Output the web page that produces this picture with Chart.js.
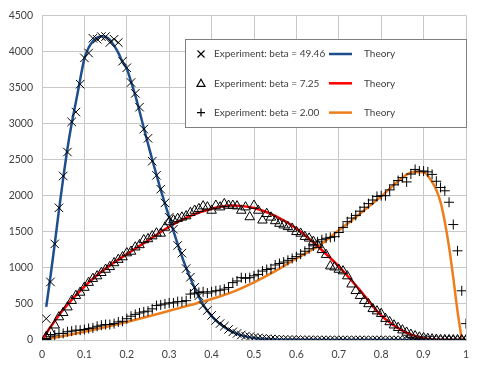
<!DOCTYPE html>
<html>
<head>
<meta charset="utf-8">
<script src="https://cdn.jsdelivr.net/npm/chart.js@4/dist/chart.umd.min.js"></script>
<style>
  html, body { margin: 0; padding: 0; background: #fff; }
  #wrap { width: 479px; height: 374px; position: relative; }
</style>
</head>
<body>
<div id="wrap"><canvas id="c" width="479" height="374"></canvas></div>
<script>
'use strict';

/* ---------- data ---------- */
// x positions of the measured points (shared by all three experiments)
const expX = [
  0.01,0.02,0.03,0.04,0.05,0.06,0.07,0.08,0.09,0.10,
  0.11,0.12,0.13,0.14,0.15,0.16,0.17,0.18,0.19,0.20,
  0.21,0.22,0.23,0.24,0.25,0.26,0.27,0.28,0.29,0.30,
  0.31,0.32,0.33,0.34,0.35,0.36,0.37,0.38,0.39,0.40,
  0.41,0.42,0.43,0.44,0.45,0.46,0.47,0.48,0.49,0.50,
  0.51,0.52,0.53,0.54,0.55,0.56,0.57,0.58,0.59,0.60,
  0.61,0.62,0.63,0.64,0.65,0.66,0.67,0.68,0.69,0.70,
  0.71,0.72,0.73,0.74,0.75,0.76,0.77,0.78,0.79,0.80,
  0.81,0.82,0.83,0.84,0.85,0.86,0.87,0.88,0.89,0.90,
  0.91,0.92,0.93,0.94,0.95,0.96,0.97,0.98,0.99,1.00
];

// Experiment: beta = 49.46
const exp4946 = [
  296,805,1332,1832,2273,2605,3023,3159,3545,3910,
  3977,4182,4168,4205,4205,4123,4168,4123,3864,3773,
  3568,3418,3227,2923,2795,2478,2282,2090,1900,1700,
  1535,1310,1204,990,870,730,614,477,409,341,
  273,228,191,146,113,91,70,55,45,35,
  28,22,17,13,10,8,6,5,4,3,
  2,2,1,1,1,0,0,0,0,0,
  0,0,0,0,0,0,0,0,0,0,
  0,0,0,0,0,0,0,0,0,0,
  0,0,0,0,0,0,0,0,0,0
];

// Experiment: beta = 7.25
const exp725 = [
  45,114,205,318,377,455,545,614,659,727,
  795,850,886,932,977,1014,1068,1114,1150,1205,
  1227,1286,1318,1386,1400,1440,1480,1477,1560,1636,
  1660,1682,1700,1718,1764,1795,1818,1855,1841,1795,
  1864,1841,1886,1864,1864,1855,1795,1841,1705,1864,
  1795,1659,1750,1700,1650,1614,1591,1568,1545,1500,
  1477,1432,1409,1364,1318,1250,1182,1023,1009,977,
  955,886,773,682,614,545,500,432,400,364,
  296,250,205,170,136,105,75,55,38,28,
  18,12,7,4,2,1,0,0,0,0
];

// Experiment: beta = 2.00
const exp200 = [
  20,45,68,91,91,114,123,136,136,145,
  160,168,190,205,214,214,227,250,260,295,
  330,355,375,390,400,432,477,486,500,514,
  514,532,532,545,636,650,659,668,650,668,
  682,690,705,727,795,818,864,855,864,890,
  909,955,977,988,1040,1060,1080,1105,1130,1155,
  1190,1230,1265,1305,1360,1390,1410,1422,1432,1490,
  1560,1640,1690,1727,1785,1840,1890,1940,1990,2000,
  2000,2080,2150,2210,2250,2191,2300,2364,2341,2341,
  2330,2295,2200,2114,2068,1909,1600,1236,682,227
];

// Theory curves
const theoryBlueX = [0.01,0.02,0.03,0.04,0.05,0.06,0.07,0.08,0.09,0.10,0.11,0.12,0.13,0.14,0.15,0.16,0.17,0.18,0.19,0.20,
  0.21,0.22,0.23,0.24,0.25,0.26,0.27,0.28,0.29,0.30,0.32,0.34,0.36,0.38,0.40,0.42,0.44,0.46,0.48,0.50,0.55,0.60,0.70,0.80,0.90,1.00];
const theoryBlueY = [460,880,1330,1800,2240,2650,3000,3300,3610,3900,4050,4140,4190,4210,4200,4160,4080,3980,3850,3760,
  3580,3390,3170,2940,2720,2500,2290,2080,1890,1700,1330,1000,720,490,330,220,140,85,50,28,8,2,0,0,0,0];

const theoryRedX = [0,0.02,0.05,0.10,0.15,0.20,0.25,0.30,0.35,0.40,0.45,0.50,0.55,0.60,0.65,0.70,0.75,0.80,0.85,0.90,0.95,1.00];
const theoryRedY = [0,180,420,740,990,1190,1380,1570,1720,1820,1865,1830,1720,1545,1300,1020,690,340,130,25,2,0];

const theoryOrangeX = [0,0.05,0.10,0.15,0.20,0.25,0.30,0.35,0.40,0.45,0.50,0.55,0.60,0.65,0.70,0.75,0.80,0.85,0.875,0.90,0.92,0.93,0.94,0.95,0.96,0.97,0.98,0.99];
const theoryOrangeY = [0,55,115,180,250,325,405,485,568,668,800,955,1130,1295,1520,1750,1990,2250,2330,2325,2190,2080,1910,1640,1290,860,400,10];

const legendRows = [
  { label: 'Experiment: beta = 49.46', marker: 'crossRot', color: '#1f4e8c' },
  { label: 'Experiment: beta = 7.25',  marker: 'triangle', color: '#ff0000' },
  { label: 'Experiment: beta = 2.00',  marker: 'cross',    color: '#ee7d1b' },
];

/* ---------- helpers ---------- */
function pts(xs, ys) {
  return xs.map((x, i) => ({ x, y: ys[i] }));
}

const FONT = 'Lato, "Open Sans", sans-serif';
const TEXT = '#404040';
const GRID = '#c8c8c8';

function expSet(label, ys, style, r) {
  return {
    label,
    data: pts(expX, ys),
    showLine: false,
    pointStyle: style,
    pointRadius: r,
    pointBorderWidth: 1,
    pointBorderColor: '#000',
    pointBackgroundColor: 'rgba(0,0,0,0)',
    order: 1,
  };
}

function theorySet(xs, ys, color) {
  return {
    label: 'Theory',
    data: pts(xs, ys),
    showLine: true,
    borderColor: color,
    borderWidth: 2.5,
    pointRadius: 0,
    cubicInterpolationMode: 'monotone',
    fill: false,
    order: 2,
  };
}

/* ---------- legend box plugin ---------- */
const legendBox = {
  id: 'legendBox',
  afterDraw(chart) {
    const ctx = chart.ctx;
    const bx = 185, by = 39, bw = 281, bh = 88;
    ctx.save();
    ctx.fillStyle = '#fff';
    ctx.fillRect(bx, by, bw, bh);
    ctx.strokeStyle = '#7f7f7f';
    ctx.lineWidth = 1;
    ctx.strokeRect(bx + 0.5, by + 0.5, bw, bh);

    ctx.font = '10px ' + FONT;
    ctx.fillStyle = TEXT;
    ctx.textBaseline = 'middle';
    legendRows.forEach((row, i) => {
      const y = 54 + i * 29.3;
      // marker
      ctx.strokeStyle = '#000';
      ctx.lineWidth = 1.2;
      ctx.beginPath();
      const mx = 201;
      if (row.marker === 'crossRot') {
        ctx.moveTo(mx - 3.5, y - 3.5); ctx.lineTo(mx + 3.5, y + 3.5);
        ctx.moveTo(mx + 3.5, y - 3.5); ctx.lineTo(mx - 3.5, y + 3.5);
      } else if (row.marker === 'triangle') {
        ctx.moveTo(mx, y - 4); ctx.lineTo(mx + 4, y + 3); ctx.lineTo(mx - 4, y + 3); ctx.closePath();
      } else {
        ctx.moveTo(mx - 4, y); ctx.lineTo(mx + 4, y);
        ctx.moveTo(mx, y - 4); ctx.lineTo(mx, y + 4);
      }
      ctx.stroke();
      ctx.fillText(row.label, 214, y);
      // theory line sample
      ctx.strokeStyle = row.color;
      ctx.lineWidth = 2.5;
      ctx.beginPath();
      ctx.moveTo(329, y); ctx.lineTo(352, y);
      ctx.stroke();
      ctx.fillText('Theory', 364, y);
    });
    ctx.restore();
  }
};

/* ---------- chart ---------- */
const chart = new Chart(document.getElementById('c'), {
  type: 'scatter',
  data: {
    datasets: [
      expSet('Experiment: beta = 49.46', exp4946, 'crossRot', 6),
      theorySet(theoryBlueX, theoryBlueY, '#1f4e8c'),
      expSet('Experiment: beta = 7.25', exp725, 'triangle', 5.5),
      theorySet(theoryRedX, theoryRedY, '#ff0000'),
      expSet('Experiment: beta = 2.00', exp200, 'cross', 5),
      theorySet(theoryOrangeX, theoryOrangeY, '#ee7d1b'),
    ]
  },
  options: {
    responsive: false,
    animation: false,
    layout: { padding: { left: 0, right: 13, top: 10, bottom: 0 } },
    plugins: { legend: { display: false }, tooltip: { enabled: false } },
    scales: {
      x: {
        type: 'linear',
        min: 0, max: 1,
        afterFit: s => { s.height = 34; },
        ticks: {
          stepSize: 0.1,
          padding: 8,
          color: TEXT,
          font: { family: FONT, size: 10.5 },
          maxRotation: 0,
          callback: v => String(Math.round(v * 10) / 10),
        },
        grid: { color: GRID, drawTicks: false },
        border: { color: GRID },
      },
      y: {
        min: 0, max: 4500,
        afterFit: s => { s.width = 42; },
        ticks: {
          stepSize: 500,
          padding: 9,
          color: TEXT,
          font: { family: FONT, size: 10.5 },
          callback: v => String(v),
        },
        grid: { color: GRID, drawTicks: false },
        border: { color: GRID },
      }
    }
  },
  plugins: [legendBox]
});
</script>
</body>
</html>
